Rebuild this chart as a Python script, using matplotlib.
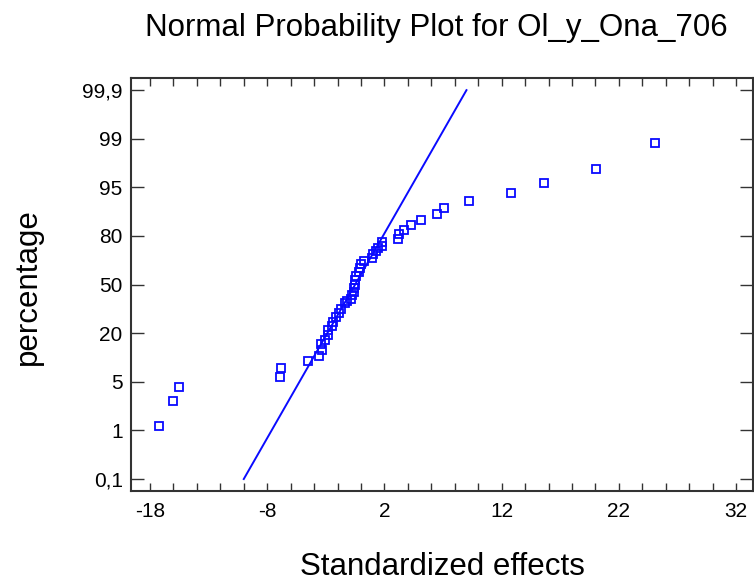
import numpy as np
import matplotlib
matplotlib.use("Agg")
import matplotlib.pyplot as plt
from matplotlib.ticker import FixedLocator, FixedFormatter

plt.rcParams['font.family'] = ['Liberation Sans', 'DejaVu Sans']

# ---- data ----
title = "Normal Probability Plot for Ol_y_Ona_706"
x_label = "Standardized effects"
y_label = "percentage"

effects = [-17.21, -16.06, -15.52, -6.87, -6.83, -4.49, -3.56, -3.34, -3.38, -3.09,
           -2.84, -2.81, -2.48, -2.37, -2.12, -1.84, -1.69, -1.33, -1.23, -0.83,
           -0.79, -0.61, -0.58, -0.51, -0.47, -0.40, -0.15, -0.11, -0.04, 0.28,
           0.93, 1.00, 1.32, 1.43, 1.76, 1.83, 3.12, 3.23, 3.70, 4.27,
           5.13, 6.46, 7.11, 9.19, 12.78, 15.58, 20.07, 25.10]
percent = [1.38, 3.4, 4.6, 6.5, 9.2, 11.45, 13.1, 14.9, 16.55, 18.05,
           19.4, 21.8, 24.2, 26.9, 29.9, 32.6, 35.0, 38.6, 39.8, 41.0,
           43.4, 45.5, 47.6, 50.0, 52.7, 55.1, 57.8, 60.5, 62.9, 64.4,
           66.5, 68.9, 71.0, 72.5, 73.7, 76.1, 77.9, 80.6, 82.0, 83.5,
           85.0, 86.8, 88.6, 90.8, 93.2, 95.4, 96.5, 98.64]

ref_line_x = [-10.0, 9.0]
ref_line_pct = [0.1, 99.9]

y_tick_values = [0.1, 1, 5, 20, 50, 80, 95, 99, 99.9]
y_tick_labels = ["0,1", "1", "5", "20", "50", "80", "95", "99", "99,9"]
x_tick_values = [-18, -8, 2, 12, 22, 32]
x_tick_labels = ["-18", "-8", "2", "12", "22", "32"]

# ---- probability scale (evenly spaced labelled percentages) ----
_p = np.array(y_tick_values, float)
_i = np.arange(len(_p), dtype=float)


def fwd(p):
    p = np.asarray(p, float)
    y = np.interp(p, _p, _i)
    y = np.where(p < _p[0], (p - _p[0]) / (_p[1] - _p[0]), y)
    y = np.where(p > _p[-1], _i[-1] + (p - _p[-1]) / (_p[-1] - _p[-2]), y)
    return y


def inv(y):
    y = np.asarray(y, float)
    p = np.interp(y, _i, _p)
    p = np.where(y < _i[0], _p[0] + (y - _i[0]) * (_p[1] - _p[0]), p)
    p = np.where(y > _i[-1], _p[-1] + (y - _i[-1]) * (_p[-1] - _p[-2]), p)
    return p


W, H = 754, 587
fig = plt.figure(figsize=(W / 100, H / 100), dpi=100)
ax = fig.add_axes([131 / W, 1 - 490.7 / H, (752.7 - 131) / W, (490.7 - 78) / H])
ax.set_yscale('function', functions=(fwd, inv))

blue = '#0a0aff'
ax.plot(ref_line_x, ref_line_pct, color=blue, lw=1.4, zorder=2)
ax.plot(effects, percent, linestyle='none', marker='s', markersize=5.6,
        markerfacecolor='none', markeredgecolor=blue, markeredgewidth=1.3, zorder=3)

ax.set_xlim(-19.62, 33.42)
ax.set_ylim(inv(-0.24), inv(8.25))

ax.xaxis.set_major_locator(FixedLocator(x_tick_values))
ax.xaxis.set_major_formatter(FixedFormatter(x_tick_labels))
ax.xaxis.set_minor_locator(FixedLocator(np.arange(-18, 34, 2)))
ax.yaxis.set_major_locator(FixedLocator(y_tick_values))
ax.yaxis.set_major_formatter(FixedFormatter(y_tick_labels))
ax.yaxis.set_minor_locator(FixedLocator([]))

ax.tick_params(axis='x', which='both', direction='in', top=True, bottom=True,
               length=5.5, width=1.0, color='#333333', labelsize=15, pad=8)
ax.tick_params(axis='y', which='major', direction='in', left=True, right=True,
               length=9.5, width=1.0, color='#333333', labelsize=15, pad=6)
for s in ax.spines.values():
    s.set_color('#333333')
    s.set_linewidth(1.5)

fig.text(436 / W, 1 - 28 / H, title, ha='center', va='center', fontsize=22.5)
fig.text(442 / W, 1 - 567 / H, x_label, ha='center', va='center', fontsize=22.5)
fig.text(28 / W, 1 - 287 / H, y_label, ha='center', va='center', rotation=90, fontsize=22.5)

fig.savefig('out.png', dpi=100)
